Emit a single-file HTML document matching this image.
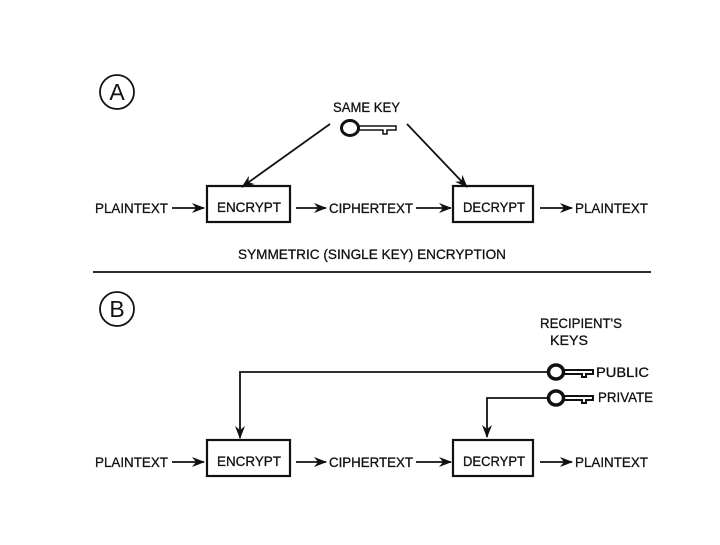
<!DOCTYPE html>
<html><head><style>
body{margin:0;background:#fff}
svg text{font-family:"Liberation Sans",sans-serif;font-size:14px;fill:#111;stroke:#111;stroke-width:0.3}
</style></head><body>
<svg width="720" height="540" viewBox="0 0 720 540" xmlns="http://www.w3.org/2000/svg">
<defs><marker id="ah" markerWidth="13" markerHeight="10" refX="12" refY="5" orient="auto" markerUnits="userSpaceOnUse"><path d="M0,0 L13,5 L0,10 L4,5 Z" fill="#111"/></marker></defs>
<g stroke="#111" fill="none" stroke-width="1.8">
<circle cx="117" cy="92" r="17"/>
<circle cx="117" cy="309" r="17"/>
<line x1="93" y1="272" x2="651" y2="272"/>
<rect x="207" y="186" width="83" height="36" stroke-width="2.2"/>
<rect x="453" y="186" width="80" height="36" stroke-width="2.2"/>
<rect x="207" y="440" width="83" height="36" stroke-width="2.2"/>
<rect x="453" y="440" width="80" height="36" stroke-width="2.2"/>
<g marker-end="url(#ah)">
<line x1="172" y1="208" x2="204" y2="208"/>
<line x1="296" y1="208" x2="326" y2="208"/>
<line x1="416" y1="208" x2="451" y2="208"/>
<line x1="540" y1="208" x2="572" y2="208"/>
<line x1="330" y1="124" x2="242" y2="187"/>
<line x1="407" y1="124" x2="467" y2="187"/>
<line x1="172" y1="462" x2="204" y2="462"/>
<line x1="296" y1="462" x2="326" y2="462"/>
<line x1="416" y1="462" x2="451" y2="462"/>
<line x1="540" y1="462" x2="572" y2="462"/>
<polyline points="547,372 240,372 240,438"/>
<polyline points="547,398 487,398 487,437"/>
</g>
</g>
<g stroke="#111" fill="none">
<ellipse cx="350" cy="128" rx="8.5" ry="7.5" stroke-width="3"/>
<path d="M359,126 H396 V130 H387 V134 H383 V130 H359" stroke-width="1.5"/>
<ellipse cx="556" cy="372" rx="7.5" ry="7" stroke-width="3.5"/>
<path d="M564,370 H593 V374 H586 V377 H582 V374 H564" stroke-width="2"/>
<ellipse cx="556" cy="398" rx="7.5" ry="7" stroke-width="3.5"/>
<path d="M564,396 H593 V400 H586 V403 H582 V400 H564" stroke-width="2"/>
</g>
<text x="117" y="100" text-anchor="middle" style="font-size:23px;stroke-width:0">A</text>
<text x="117" y="317" text-anchor="middle" style="font-size:23px;stroke-width:0">B</text>
<text x="333" y="112" textLength="67" lengthAdjust="spacingAndGlyphs">SAME KEY</text>
<g>
<text x="95" y="213" textLength="73" lengthAdjust="spacingAndGlyphs">PLAINTEXT</text>
<text x="217" y="212" textLength="64" lengthAdjust="spacingAndGlyphs">ENCRYPT</text>
<text x="329" y="213" textLength="84" lengthAdjust="spacingAndGlyphs">CIPHERTEXT</text>
<text x="463" y="212" textLength="62" lengthAdjust="spacingAndGlyphs">DECRYPT</text>
<text x="575" y="213" textLength="73" lengthAdjust="spacingAndGlyphs">PLAINTEXT</text>
<text x="238" y="259" textLength="268" lengthAdjust="spacingAndGlyphs">SYMMETRIC (SINGLE KEY) ENCRYPTION</text>
<text x="540" y="328" textLength="82" lengthAdjust="spacingAndGlyphs">RECIPIENT'S</text>
<text x="550" y="345" textLength="38" lengthAdjust="spacingAndGlyphs">KEYS</text>
<text x="596" y="377" textLength="53" lengthAdjust="spacingAndGlyphs">PUBLIC</text>
<text x="598" y="402" textLength="55" lengthAdjust="spacingAndGlyphs">PRIVATE</text>
<text x="95" y="467" textLength="73" lengthAdjust="spacingAndGlyphs">PLAINTEXT</text>
<text x="217" y="466" textLength="64" lengthAdjust="spacingAndGlyphs">ENCRYPT</text>
<text x="329" y="467" textLength="84" lengthAdjust="spacingAndGlyphs">CIPHERTEXT</text>
<text x="463" y="466" textLength="62" lengthAdjust="spacingAndGlyphs">DECRYPT</text>
<text x="575" y="467" textLength="73" lengthAdjust="spacingAndGlyphs">PLAINTEXT</text>
</g>
</svg>
</body></html>
